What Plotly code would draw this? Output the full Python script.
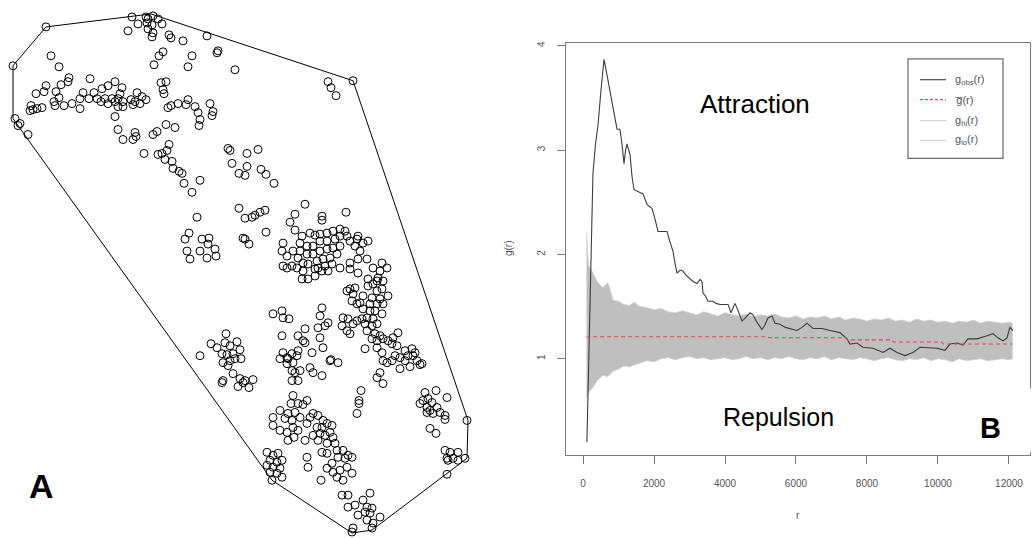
import plotly.graph_objects as go

W, H = 1033, 538

# ---- Panel A: point pattern (map coordinates, y grows downwards) ----
pts_x = [
    132, 138, 146, 148, 153, 158, 147, 152, 162, 148, 153, 152, 128, 169, 171, 183, 207, 218, 217, 192,
    188, 235, 163, 159, 154, 51, 59, 46, 13,
    90, 69, 68, 61, 46, 44, 36, 56, 59, 54, 55, 64, 72, 80, 80, 83, 89, 94, 97, 102,
    105, 108, 115, 112, 101, 108, 115, 118, 122, 120, 123, 118, 123, 131, 135, 137, 142, 146, 140, 133,
    115, 31, 33, 42, 37, 30, 15, 20, 18, 28,
    161, 166, 163, 164, 168, 171, 178, 186, 188, 195, 198, 200, 199, 210, 213, 212, 166, 175, 157, 153,
    118, 123, 133, 135, 136, 144, 169, 158, 162, 167, 165, 172, 173, 179, 182, 184, 192, 200,
    228, 230, 247, 258, 232, 239, 245, 247, 261, 266, 274, 305, 295, 290, 295, 322, 322, 346, 239, 245,
    252, 255, 260, 265, 266, 197, 328, 331, 336, 353,
    189, 185, 187, 190, 202, 209, 208, 200, 207, 215, 216, 243, 245, 249,
    283, 282, 287, 293, 300, 302, 310, 315, 320, 327, 333, 340, 345, 347, 340, 335, 327, 320, 313, 307,
    300, 307, 313, 320, 327, 333, 340, 337, 330, 323, 317, 318, 325, 332, 328, 322, 315, 308, 303, 298,
    283, 287, 292, 297, 303, 302, 308, 315, 340, 350, 358, 350, 358, 367, 360, 355, 350, 358, 363, 368,
    357, 373, 380, 387, 382, 378, 377, 383, 368,
    350, 355, 347, 353, 363, 368, 373, 377, 382, 372, 380, 388, 383, 377, 370, 360, 357, 352, 363, 370,
    375, 367, 373, 382, 362, 357, 365, 372, 377, 367, 375, 380, 372, 377, 383, 388, 393, 398, 392, 397,
    365, 377, 382, 383,
    405, 412, 415, 408, 413, 400, 405, 417, 422, 395, 392, 387, 377, 383, 380, 400, 410, 420,
    273, 282, 283, 289, 322, 320, 328, 325, 318, 305, 298, 303, 320, 282, 312, 323, 330, 338, 343, 342,
    348, 347, 350, 353, 283, 287, 292, 298, 293, 280,
    305, 288, 297, 287, 292, 295, 300, 292, 298, 310, 313, 322, 331, 361, 359, 359, 357,
    226, 211, 217, 225, 230, 237, 240, 233, 227, 222, 223, 230, 235, 241, 228, 200, 233, 240, 245, 253,
    222, 223, 238, 249, 243,
    293, 291, 298, 307, 303, 280, 288, 295, 273, 285, 292, 300, 273, 280, 287, 293, 298, 288, 294, 305,
    307, 310, 313, 318, 323, 317, 322, 327, 332, 320, 325, 330, 333, 313, 318, 327, 335, 327, 322, 337,
    343, 348, 345, 352, 338, 332, 327, 333, 340, 347, 352, 337, 343, 321, 307, 308,
    267, 273, 278, 270, 277, 282, 267, 273, 280, 270, 277, 282, 272,
    342, 348, 348, 355, 363, 370, 358, 365, 370, 367, 373, 380, 372, 353, 352, 367, 372,
    425, 436, 423, 428, 432, 447, 420, 427, 430, 437, 440, 433, 445, 445, 427, 430, 436, 467, 445, 450,
    458, 447, 453, 458, 465, 448, 447,
]
pts_y = [
    15, 22, 15, 17, 14, 17, 21, 23, 22, 27, 31, 35, 29, 33, 36, 39, 34, 49, 51, 54,
    65, 68, 50, 54, 63, 54, 65, 25, 64,
    77, 76, 80, 83, 84, 90, 92, 90, 96, 100, 104, 104, 102, 107, 97, 91, 97, 91, 97, 87,
    97, 84, 80, 97, 100, 102, 100, 97, 86, 92, 100, 105, 105, 98, 100, 91, 95, 98, 102, 103,
    115, 104, 108, 106, 107, 109, 117, 122, 124, 133,
    81, 80, 88, 92, 106, 104, 102, 103, 98, 105, 111, 118, 124, 102, 110, 114, 123, 126, 130, 133,
    128, 138, 138, 131, 135, 152, 143, 153, 152, 149, 158, 160, 167, 170, 172, 182, 191, 179,
    147, 149, 152, 148, 162, 172, 174, 165, 168, 173, 182, 203, 213, 221, 229, 215, 219, 211, 207, 217,
    216, 214, 211, 209, 231, 216, 80, 86, 94, 79,
    232, 238, 250, 258, 238, 237, 243, 250, 257, 248, 255, 237, 238, 243,
    242, 250, 255, 250, 242, 235, 232, 234, 233, 232, 230, 228, 230, 235, 235, 238, 240, 240, 245, 245,
    250, 253, 253, 250, 248, 247, 245, 253, 257, 258, 260, 267, 265, 263, 270, 270, 268, 263, 262, 257,
    265, 267, 265, 267, 270, 278, 278, 275, 267, 268, 272, 262, 258, 258, 250, 245, 240, 235, 242, 240,
    238, 267, 270, 267, 262, 277, 280, 280, 278,
    288, 287, 290, 293, 295, 285, 283, 290, 288, 297, 298, 295, 303, 303, 303, 302, 303, 300, 308, 310,
    310, 317, 318, 313, 318, 320, 323, 325, 323, 330, 333, 335, 338, 340, 338, 340, 337, 332, 343, 345,
    348, 347, 352, 360,
    350, 348, 352, 355, 355, 357, 360, 360, 363, 355, 360, 362, 377, 383, 372, 368, 366, 364,
    313, 310, 317, 318, 307, 315, 322, 325, 327, 328, 335, 340, 337, 335, 352, 347, 360, 362, 317, 325,
    318, 330, 333, 323, 352, 357, 353, 350, 362, 358,
    342, 358, 355, 363, 370, 372, 370, 380, 380, 367, 372, 375, 359, 390, 400, 403, 413,
    333, 343, 347, 342, 345, 341, 349, 353, 354, 353, 362, 360, 358, 358, 365, 355, 373, 378, 380, 379,
    382, 380, 386, 387, 382,
    395, 403, 403, 400, 404, 410, 413, 412, 417, 418, 420, 417, 425, 430, 432, 427, 430, 440, 437, 440,
    423, 417, 413, 415, 420, 427, 427, 423, 425, 433, 435, 432, 437, 435, 440, 443, 443, 453, 452, 450,
    450, 455, 458, 457, 457, 463, 468, 472, 470, 467, 473, 477, 480, 480, 457, 467,
    452, 455, 453, 460, 462, 460, 465, 467, 468, 472, 473, 477, 480,
    495, 495, 507, 505, 500, 493, 515, 512, 513, 520, 523, 517, 528, 528, 532, 507, 508,
    392, 390, 400, 398, 402, 397, 403, 407, 410, 407, 412, 413, 415, 419, 412, 428, 433, 420, 450, 452,
    452, 458, 458, 460, 458, 460, 474,
]

# convex hull of the pattern
hull_x = [13, 46, 151, 353, 468, 467, 372, 352, 272, 13, 13]
hull_y = [64, 25, 12, 79, 420, 458, 530, 533, 480, 117, 64]

# ---- Panel B: pair correlation function g(r) ----
obs_r = [110, 160, 220, 280, 350, 423, 500, 592, 660, 732, 850, 958, 1042, 1100, 1155, 1200, 1240, 1324,
         1380, 1437, 1550, 1690, 1803, 1944, 2020, 2113, 2250, 2366, 2450, 2535, 2600, 2648, 2740, 2817,
         2900, 3014, 3100, 3211, 3300, 3352, 3380, 3450, 3521, 3662, 3750, 3859, 4000, 4085, 4169, 4282,
         4380, 4479, 4600, 4704, 4789, 4900, 5042, 5120, 5211, 5324, 5408, 5549, 5700, 5831, 6028, 6169,
         6310, 6479, 6732, 6958, 7239, 7437, 7521, 7718, 7887, 8169, 8451, 8648, 8845, 9070, 9296, 9493,
         9775, 9972, 10197, 10338, 10535, 10704, 10845, 11099, 11380, 11549, 11690, 11831, 11943, 12028,
         12113]
obs_g = [0.20, 0.90, 2.00, 2.77, 3.05, 3.24, 3.55, 3.87, 3.75, 3.63, 3.40, 3.20, 3.20, 3.05, 2.87, 3.00,
         3.06, 2.96, 2.75, 2.62, 2.60, 2.58, 2.48, 2.44, 2.35, 2.22, 2.22, 2.22, 2.12, 2.03, 1.90, 1.82,
         1.85, 1.84, 1.80, 1.76, 1.74, 1.72, 1.76, 1.74, 1.63, 1.60, 1.55, 1.55, 1.53, 1.52, 1.52, 1.52,
         1.44, 1.53, 1.45, 1.36, 1.40, 1.44, 1.42, 1.35, 1.28, 1.32, 1.39, 1.41, 1.34, 1.33, 1.30, 1.29,
         1.27, 1.30, 1.34, 1.29, 1.29, 1.27, 1.25, 1.19, 1.14, 1.15, 1.11, 1.10, 1.06, 1.10, 1.06, 1.03,
         1.06, 1.11, 1.10, 1.10, 1.08, 1.14, 1.15, 1.13, 1.19, 1.19, 1.22, 1.24, 1.20, 1.17, 1.20, 1.30,
         1.27]

mean_r = [100, 180, 250, 5200, 5250, 7400, 7450, 8700, 8750, 10100, 10150, 12100]
mean_g = [1.21, 1.20, 1.21, 1.21, 1.20, 1.20, 1.18, 1.18, 1.16, 1.16, 1.14, 1.14]

env_r = [100, 150, 250, 400, 550, 700, 850, 1000, 1150, 1300, 1450, 1600, 1800, 2000, 2200, 2400, 2600,
         2800, 3000, 3200, 3400, 3600, 3800, 4000, 4200, 4400, 4600, 4800, 5000, 5200, 5400, 5600, 5800,
         6000, 6200, 6400, 6600, 6800, 7000, 7200, 7400, 7600, 7800, 8000, 8200, 8400, 8600, 8800, 9000,
         9200, 9400, 9600, 9800, 10000, 10200, 10400, 10600, 10800, 11000, 11200, 11400, 11600, 11800,
         12000, 12100]
env_hi = [2.22, 1.90, 1.84, 1.74, 1.68, 1.73, 1.56, 1.55, 1.52, 1.51, 1.54, 1.50, 1.49, 1.47, 1.48, 1.45,
          1.44, 1.46, 1.44, 1.42, 1.45, 1.43, 1.41, 1.44, 1.42, 1.41, 1.43, 1.40, 1.42, 1.41, 1.43, 1.40,
          1.39, 1.41, 1.38, 1.40, 1.39, 1.41, 1.38, 1.40, 1.37, 1.39, 1.38, 1.36, 1.38, 1.37, 1.39, 1.36,
          1.37, 1.35, 1.38, 1.36, 1.37, 1.35, 1.36, 1.34, 1.36, 1.35, 1.37, 1.34, 1.36, 1.35, 1.34, 1.35,
          1.34]
env_lo = [0.62, 0.68, 0.71, 0.79, 0.84, 0.83, 0.88, 0.90, 0.93, 0.92, 0.94, 0.96, 0.98, 0.97, 1.00, 1.01,
          0.99, 1.01, 1.02, 1.00, 1.01, 0.99, 1.00, 1.01, 0.99, 1.00, 1.02, 1.00, 1.01, 0.99, 1.01, 1.00,
          1.02, 1.00, 0.99, 1.01, 1.00, 1.02, 0.99, 1.01, 1.00, 0.99, 1.01, 1.00, 0.98, 1.00, 1.01, 0.99,
          0.98, 1.00, 0.99, 1.01, 0.98, 1.00, 0.99, 0.97, 1.00, 0.98, 0.99, 1.00, 0.98, 0.99, 1.00, 0.99,
          1.00]

x_ticks = [0, 2000, 4000, 6000, 8000, 10000, 12000]
x_ticktext = ["0", "2000", "4000", "6000", "8000", "10000", "12000"]
y_ticks = [1, 2, 3, 4]
legend_labels = ["g<sub>obs</sub>(r)", "g\u0305(r)", "g<sub>hi</sub>(r)", "g<sub>lo</sub>(r)"]
legend_colors = ["#3c3c3c", "#e0484b", "#d2d2d2", "#d2d2d2"]
legend_dash = ["solid", "dash", "solid", "solid"]

FRAME = "#7a7a7a"
TICKTXT = "#555555"


def px(x):
    return x / W


def py(y):
    return 1 - y / H


fig = go.Figure()

# panel A
fig.add_trace(go.Scatter(x=hull_x, y=hull_y, mode="lines", line=dict(color="black", width=1),
                         xaxis="x", yaxis="y", hoverinfo="skip"))
fig.add_trace(go.Scatter(x=pts_x, y=pts_y, mode="markers",
                         marker=dict(symbol="circle-open", size=8, color="black", line=dict(width=1)),
                         xaxis="x", yaxis="y"))

# panel B: simulation envelope
fig.add_trace(go.Scatter(x=env_r, y=env_lo, mode="lines", line=dict(color="#cfcfcf", width=0.8),
                         xaxis="x2", yaxis="y2"))
fig.add_trace(go.Scatter(x=env_r, y=env_hi, mode="lines", line=dict(color="#cfcfcf", width=0.8),
                         fill="tonexty", fillcolor="#bfbfbf", xaxis="x2", yaxis="y2"))
fig.add_trace(go.Scatter(x=obs_r, y=obs_g, mode="lines", line=dict(color="#3c3c3c", width=1.1),
                         xaxis="x2", yaxis="y2"))
fig.add_trace(go.Scatter(x=mean_r, y=mean_g, mode="lines",
                         line=dict(color="#e0484b", width=1.1, dash="4px,3px"),
                         xaxis="x2", yaxis="y2"))

shapes = []
# white label box that interrupts the frame on the right
shapes.append(dict(type="rect", xref="paper", yref="paper", x0=px(700), x1=px(1033), y0=py(452), y1=py(388),
                   fillcolor="white", line=dict(width=0), layer="above"))
# legend box
shapes.append(dict(type="rect", xref="paper", yref="paper", x0=px(908), x1=px(1003), y0=py(157), y1=py(57),
                   fillcolor="white", line=dict(color="#6a6a6a", width=1.2), layer="above"))
annotations = []
row_y = [78, 98, 119, 139]
for lab, col, dsh, ry in zip(legend_labels, legend_colors, legend_dash, row_y):
    shapes.append(dict(type="line", xref="paper", yref="paper", x0=px(920), x1=px(946), y0=py(ry), y1=py(ry),
                       line=dict(color=col, width=1.1, dash="3px,2px" if dsh == "dash" else "solid"),
                       layer="above"))
    annotations.append(dict(x=px(953), y=py(ry), xref="paper", yref="paper", text=lab, showarrow=False,
                            xanchor="left", yanchor="middle",
                            font=dict(family="Liberation Sans", size=11, color="#555555")))


def label(x, y, text, size, color="black", angle=0):
    return dict(x=px(x), y=py(y), xref="paper", yref="paper", text=text, showarrow=False,
                xanchor="center", yanchor="middle", textangle=angle,
                font=dict(family="Liberation Sans", size=size, color=color))


annotations += [
    label(755, 102, "Attraction", 26),
    label(778, 417, "Repulsion", 25),
    label(990, 428, "<b>B</b>", 29),
    label(41, 486, "<b>A</b>", 34),
    label(508, 247, "g(r)", 10, TICKTXT, -90),
    label(798, 515, "r", 10, TICKTXT),
]

fig.update_layout(
    width=W, height=H,
    margin=dict(l=0, r=0, t=0, b=0),
    paper_bgcolor="white", plot_bgcolor="white",
    showlegend=False,
    xaxis=dict(domain=[0, 480 / W], range=[0, 480], visible=False, fixedrange=True),
    yaxis=dict(domain=[0, 1], range=[538, 0], visible=False, fixedrange=True),
    xaxis2=dict(domain=[566 / W, 1030 / W], range=[-479, 12592], anchor="y2",
                tickvals=x_ticks, ticktext=x_ticktext, ticks="outside", ticklen=8, tickcolor=FRAME,
                tickwidth=1, showline=True, linecolor=FRAME, linewidth=1, mirror=True,
                showgrid=False, zeroline=False, ticklabelstandoff=11,
                tickfont=dict(family="Liberation Sans", size=10, color=TICKTXT)),
    yaxis2=dict(domain=[1 - 455 / H, 1 - 41 / H], range=[0.0735, 4.028], anchor="x2",
                tickvals=y_ticks, ticks="outside", ticklen=8, tickcolor=FRAME, tickwidth=1,
                showline=True, linecolor=FRAME, linewidth=1, mirror=True,
                showgrid=False, zeroline=False, tickangle=-90, ticklabelstandoff=8,
                tickfont=dict(family="Liberation Sans", size=10, color="#4a5a78")),
    shapes=shapes,
    annotations=annotations,
)

fig.write_html("out.html")
